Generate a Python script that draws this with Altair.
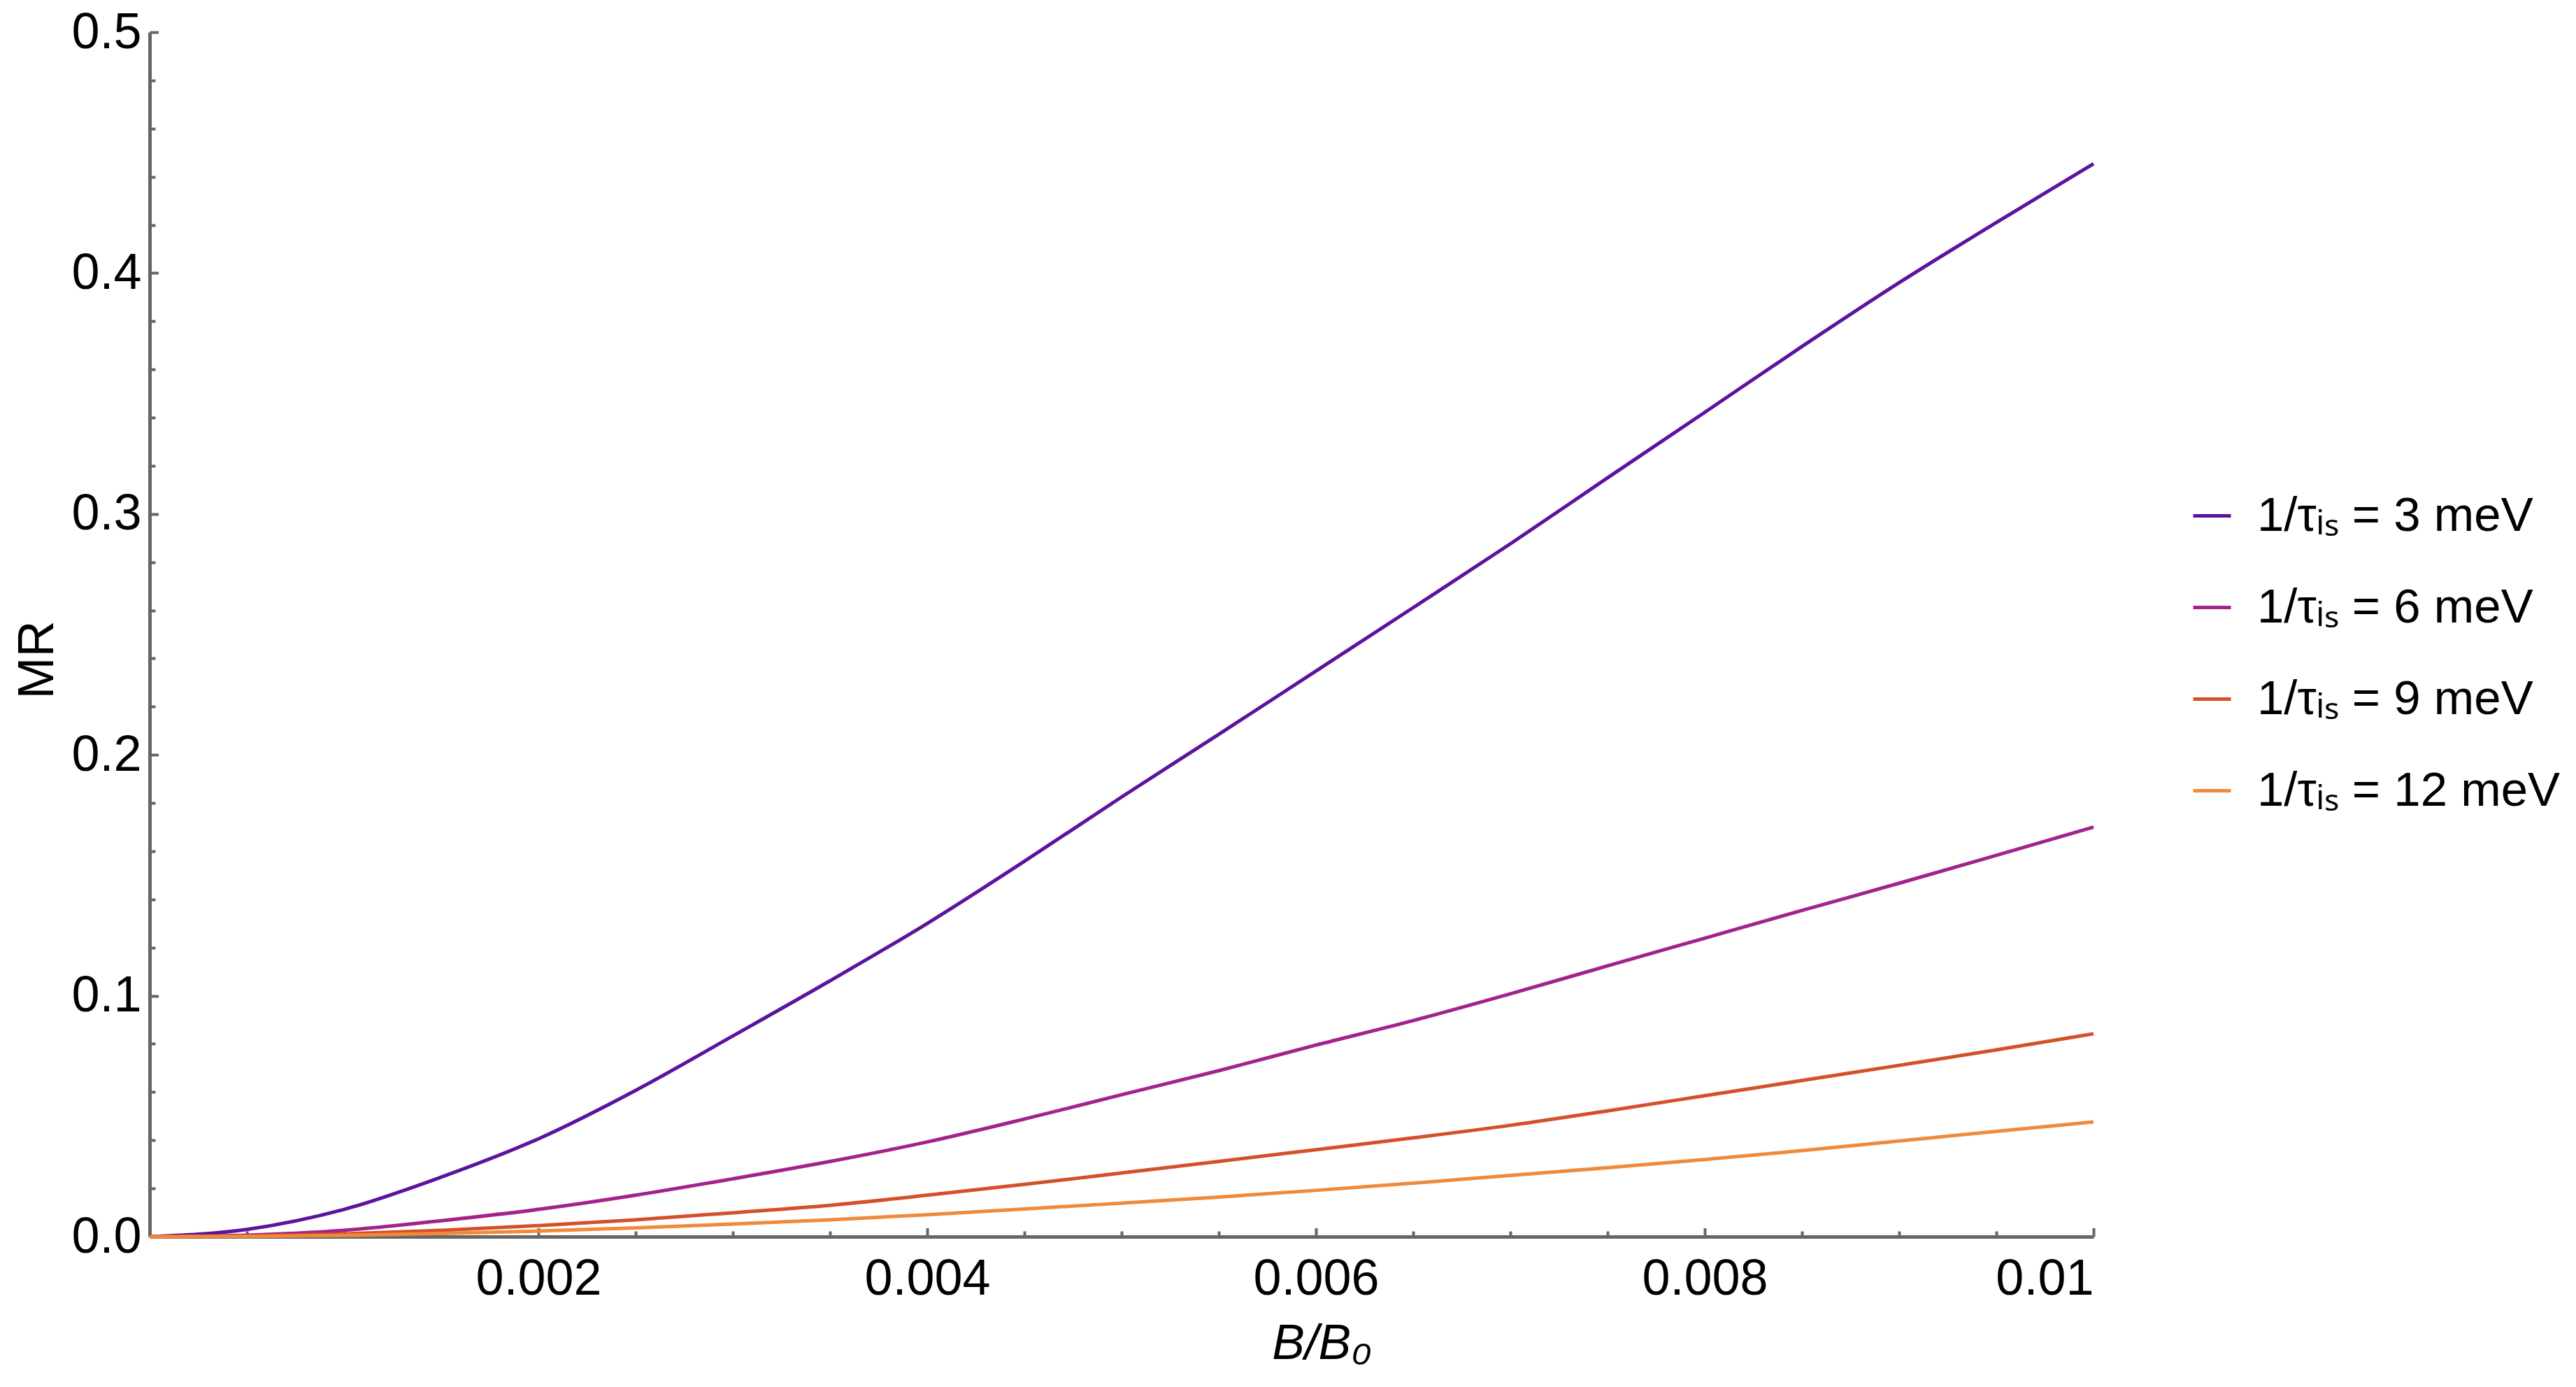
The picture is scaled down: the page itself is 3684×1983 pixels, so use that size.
import altair as alt
import pandas as pd

# ---- data ----
b_vals = [0.0, 0.0005, 0.001, 0.0015, 0.002, 0.0025, 0.003, 0.0035, 0.004, 0.0045,
          0.005, 0.0055, 0.006, 0.0065, 0.007, 0.0075, 0.008, 0.0085, 0.009, 0.0095, 0.01]
mr_3 = [0.0, 0.0030, 0.0113, 0.0247, 0.0406, 0.0607, 0.0833, 0.1062, 0.1300, 0.1558,
        0.1825, 0.2085, 0.2348, 0.2611, 0.2876, 0.3150, 0.3422, 0.3695, 0.3960, 0.4210, 0.4454]
mr_6 = [0.0, 0.0006, 0.0026, 0.0066, 0.0113, 0.0172, 0.0240, 0.0312, 0.0393, 0.0488,
        0.0589, 0.0689, 0.0795, 0.0897, 0.1008, 0.1124, 0.1239, 0.1354, 0.1467, 0.1583, 0.1700]
mr_9 = [0.0, 0.0003, 0.0011, 0.0026, 0.0046, 0.0070, 0.0099, 0.0130, 0.0172, 0.0217,
        0.0264, 0.0312, 0.0361, 0.0410, 0.0462, 0.0522, 0.0585, 0.0648, 0.0711, 0.0775, 0.0842]
mr_12 = [0.0, 0.0001, 0.0005, 0.0013, 0.0023, 0.0036, 0.0052, 0.0070, 0.0091, 0.0115,
         0.0139, 0.0164, 0.0192, 0.0222, 0.0254, 0.0286, 0.0320, 0.0357, 0.0397, 0.0437, 0.0476]

series_labels = ["1/τᵢₛ = 3 meV", "1/τᵢₛ = 6 meV", "1/τᵢₛ = 9 meV", "1/τᵢₛ = 12 meV"]
series_colors = ["#5c139e", "#a3228b", "#d5502a", "#f08a3a"]

x_label_values = [0.002, 0.004, 0.006, 0.008, 0.01]
x_major_ticks = [0.002, 0.004, 0.006, 0.008, 0.01]
x_minor_ticks = [0.0005, 0.001, 0.0015, 0.0025, 0.003, 0.0035, 0.0045, 0.005, 0.0055,
                 0.0065, 0.007, 0.0075, 0.0085, 0.009, 0.0095]
y_label_values = [0.0, 0.1, 0.2, 0.3, 0.4, 0.5]
y_major_ticks = [0.1, 0.2, 0.3, 0.4, 0.5]
y_minor_ticks = [0.02, 0.04, 0.06, 0.08, 0.12, 0.14, 0.16, 0.18, 0.22, 0.24, 0.26, 0.28,
                 0.32, 0.34, 0.36, 0.38, 0.42, 0.44, 0.46, 0.48]

rows = []
for lab, ys in zip(series_labels, [mr_3, mr_6, mr_9, mr_12]):
    for bx, yv in zip(b_vals, ys):
        rows.append({"B": bx, "MR": yv, "series": lab})
df = pd.DataFrame(rows)

FONT = "Liberation Sans"
AX = "#666666"
xscale = alt.Scale(domain=[0, 0.01], nice=False, zero=False)
yscale = alt.Scale(domain=[0, 0.5], nice=False, zero=False)

base = alt.Chart(df)

lines = base.mark_line(strokeWidth=5, interpolate="monotone").encode(
    x=alt.X("B:Q", scale=xscale, title="B/B₀",
            axis=alt.Axis(orient="bottom", values=x_label_values, format=".3~f",
                          ticks=False, tickSize=0, grid=False, domain=True,
                          domainColor=AX, domainWidth=5,
                          labelFont=FONT, labelFontSize=72, labelColor="black",
                          labelPadding=25, labelLimit=1000, labelOverlap=False,
                          titleFont=FONT, titleFontSize=70, titleFontStyle="italic",
                          titleFontWeight="normal", titleColor="black",
                          titleX=1676, titleY=174, titleAlign="center",
                          titleBaseline="alphabetic")),
    y=alt.Y("MR:Q", scale=yscale, title="MR",
            axis=alt.Axis(orient="left", values=y_label_values, format=".1f",
                          ticks=False, tickSize=0, grid=False, domain=True,
                          domainColor=AX, domainWidth=5,
                          labelFont=FONT, labelFontSize=72, labelColor="black",
                          labelPadding=12, labelLimit=1000, labelOverlap=False,
                          titleFont=FONT, titleFontSize=72, titleFontWeight="normal",
                          titleColor="black", titleAngle=270,
                          titleX=-139, titleY=897, titleAlign="center",
                          titleBaseline="alphabetic")),
    color=alt.Color("series:N", title=None,
                    scale=alt.Scale(domain=series_labels, range=series_colors),
                    legend=alt.Legend(orient="none", legendX=2915, legendY=657,
                                      symbolType="stroke", symbolSize=2916,
                                      symbolStrokeWidth=5, labelFont=FONT,
                                      labelFontSize=69, labelColor="black",
                                      labelOffset=30, rowPadding=61, padding=0,
                                      labelLimit=2000)),
)


def tick_layer(xvals, yvals, size):
    return base.mark_line(opacity=0).encode(
        x=alt.X("B:Q", scale=xscale, title=None,
                axis=alt.Axis(orient="bottom", values=xvals, labels=False, domain=False,
                              grid=False, ticks=True, tickSize=size, tickWidth=4,
                              tickColor=AX, offset=-size)),
        y=alt.Y("MR:Q", scale=yscale, title=None,
                axis=alt.Axis(orient="left", values=yvals, labels=False, domain=False,
                              grid=False, ticks=True, tickSize=size, tickWidth=4,
                              tickColor=AX, offset=-size)),
        detail="series:N",
    )


major = tick_layer(x_major_ticks, y_major_ticks, 12.5)
minor = tick_layer(x_minor_ticks, y_minor_ticks, 8)

chart = alt.layer(minor, major, lines).resolve_axis(
    x="independent", y="independent"
).properties(
    width=2780, height=1722,
    autosize=alt.AutoSizeParams(type="none"),
    padding={"left": 206, "top": 38, "right": 682, "bottom": 207},
    background="white",
).configure_view(strokeWidth=0)

chart.save("out.html", embed_options={"renderer": "svg", "actions": False})
